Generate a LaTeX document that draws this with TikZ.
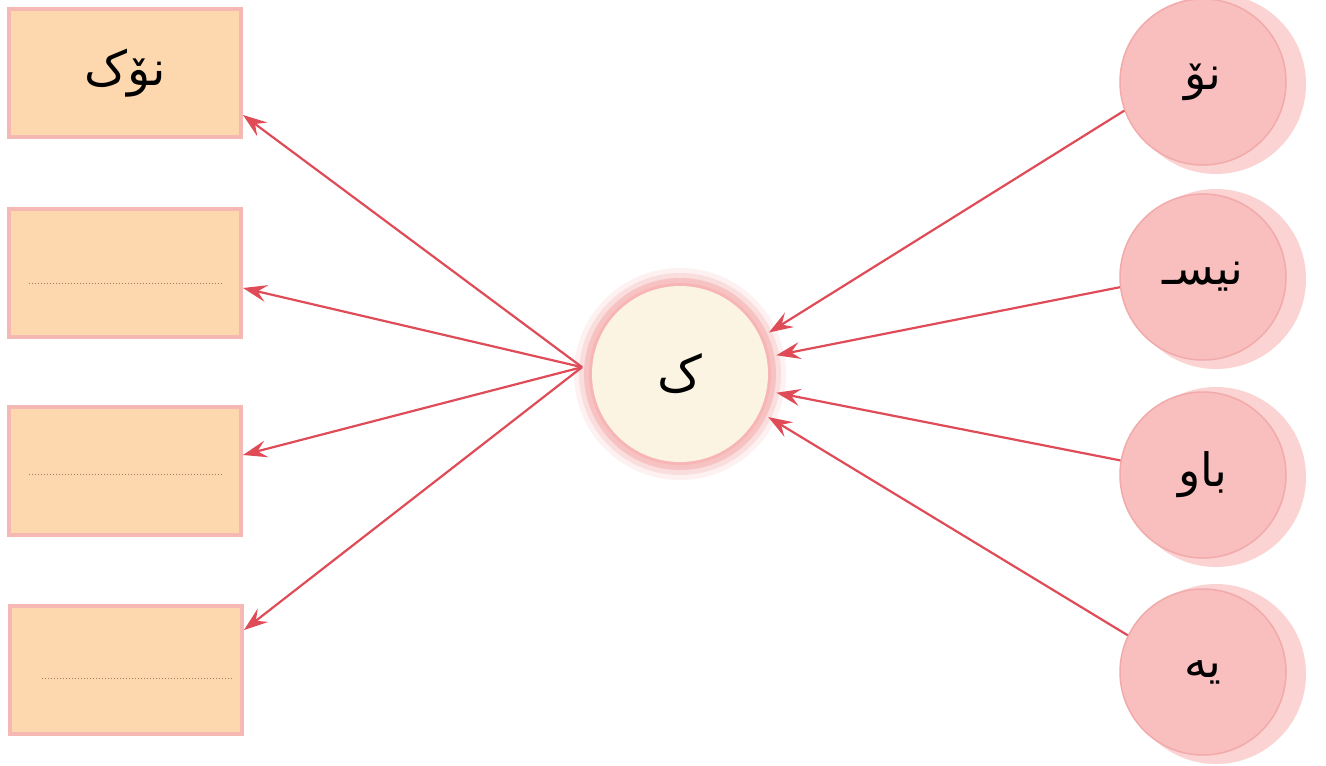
\documentclass[tikz,border=0pt]{standalone}
\usepackage{fontspec}
\newfontfamily\arabicfont[Script=Arabic]{DejaVu Sans}
\TeXXeTstate=1
\usetikzlibrary{arrows.meta,calc}
\definecolor{boxfill}{HTML}{FDD8AF}
\definecolor{boxedge}{HTML}{F5B8B2}
\definecolor{circfill}{HTML}{F9BFBF}
\definecolor{circedge}{HTML}{F2AAAA}
\definecolor{circshadow}{HTML}{FBD3D3}
\definecolor{creamfill}{HTML}{FBF4E3}
\definecolor{glowc}{HTML}{F5A3A3}
\definecolor{arrowc}{HTML}{DF4C58}
\definecolor{dotc}{HTML}{9A7A5C}
\newcommand\artext[2][44]{{\arabicfont\fontsize{#1}{#1}\selectfont\beginR #2\endR}}
\tikzset{
  wordbox/.style={rectangle, minimum width=232pt, minimum height=128pt, fill=boxfill, draw=boxedge, line width=4pt, inner sep=0pt},
  syll/.style={circle, minimum size=166pt, inner sep=0pt, fill=circfill, draw=circedge, line width=1.5pt},
  arr/.style={draw=arrowc, line width=2.2pt, -{Stealth[length=24pt,width=17pt,inset=9pt]}},
  dotline/.style={draw=dotc, line width=1pt, dotted}
}
\begin{document}
\begin{tikzpicture}[x=1pt,y=-1pt]
\useasboundingbox (0,0) rectangle (1326,766);
\fill[white] (0,0) rectangle (1326,766);
% left boxes
\node[wordbox] (b1) at (125,73) {\artext[48]{نۆک}};
\node[wordbox] (b2) at (125,273) {};
\node[wordbox] (b3) at (125,471) {};
\node[wordbox] (b4) at (126,670) {};
\draw[dotline] ([xshift=22pt,yshift=-10pt]b2.west) -- ([xshift=-20pt,yshift=-10pt]b2.east);
\draw[dotline] ([xshift=22pt,yshift=-3pt]b3.west) -- ([xshift=-20pt,yshift=-3pt]b3.east);
\draw[dotline] ([xshift=34pt,yshift=-8pt]b4.west) -- ([xshift=-12pt,yshift=-8pt]b4.east);
% right circles with soft shadow
\foreach \n/\y in {1/82,2/277,3/475,4/672}{
  \fill[circshadow] (1216,\y+2) circle (90);
}
\node[syll] (c1) at (1203,82) {\artext[46]{نۆ}};
\node[syll] (c2) at (1203,277) {\artext[46]{نیسـ}};
\node[syll] (c3) at (1203,475) {\artext[46]{باو}};
\node[syll] (c4) at (1203,672) {\artext[46]{یه}};
% centre circle with glow
\coordinate (kc) at (680,374);
\fill[glowc,opacity=0.15] (kc) circle (106);
\fill[glowc,opacity=0.25] (kc) circle (101);
\fill[glowc,opacity=0.45] (kc) circle (96);
\fill[glowc!80!white] (kc) circle (91);
\node[circle, minimum size=176pt, inner sep=0pt, fill=creamfill] (kin) at (kc) {};
\node[circle, minimum size=196pt, inner sep=0pt] (k) at (kc) {\artext[50]{ک}};
% arrows from syllables to centre
\draw[arr] (c1.200) -- (k.25);
\draw[arr] (c2.187) -- (k.11);
\draw[arr] (c3.170) -- (k.-11);
\draw[arr] (c4.154) -- (k.-26);
% arrows from centre to boxes
\draw[arr] (k.176) -- ([yshift=-42pt]b1.east);
\draw[arr] (k.176) -- ([yshift=-15pt]b2.east);
\draw[arr] (k.176) -- ([yshift=16pt]b3.east);
\draw[arr] (k.176) -- ([yshift=40pt]b4.east);
\end{tikzpicture}
\end{document}
